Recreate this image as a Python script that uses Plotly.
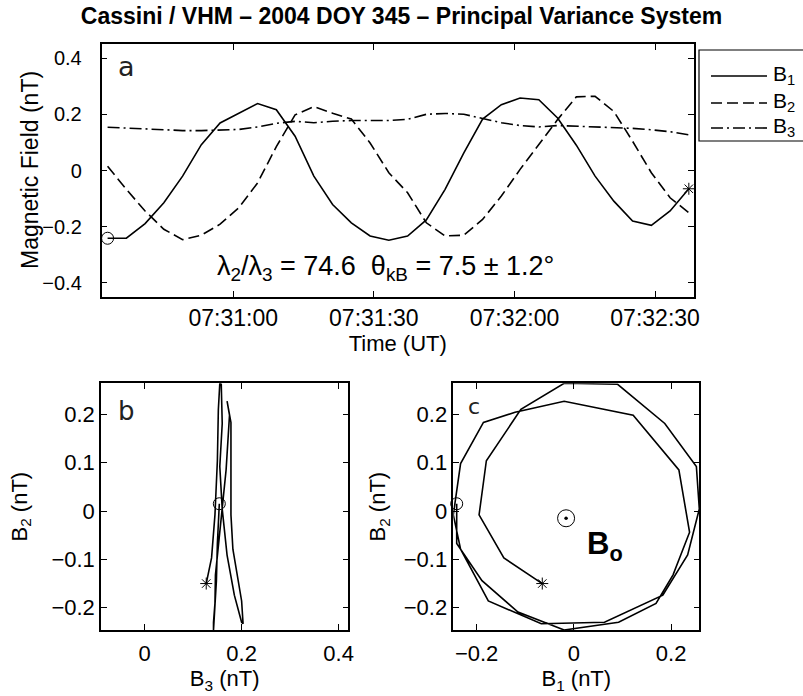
import pandas as pd
import plotly.graph_objects as go

W, H = 803, 696
OFF = 0  # body margin removed by the post script below

# ---------------- data ----------------
title_text = "Cassini / VHM – 2004 DOY 345 – Principal Variance System"
t_start = "2004-12-10 07:30:33.2"
t_step = "4s"
B1 = [-0.241, -0.241, -0.189, -0.115, -0.020, 0.092, 0.169, 0.204, 0.238, 0.216,
      0.122, -0.020, -0.121, -0.186, -0.233, -0.248, -0.233, -0.176, -0.067, 0.063,
      0.183, 0.234, 0.258, 0.252, 0.187, 0.090, -0.020, -0.109, -0.180, -0.195,
      -0.144, -0.065]
B2 = [0.015, -0.067, -0.144, -0.209, -0.246, -0.230, -0.191, -0.132, -0.044, 0.085,
      0.198, 0.227, 0.204, 0.183, 0.098, -0.008, -0.079, -0.186, -0.233, -0.230,
      -0.174, -0.091, 0.004, 0.092, 0.181, 0.262, 0.264, 0.210, 0.104, -0.008,
      -0.097, -0.150]
B3 = [0.154, 0.150, 0.148, 0.145, 0.142, 0.142, 0.145, 0.146, 0.155, 0.168,
      0.175, 0.170, 0.175, 0.178, 0.178, 0.178, 0.182, 0.200, 0.203, 0.200,
      0.185, 0.170, 0.160, 0.155, 0.160, 0.158, 0.155, 0.152, 0.150, 0.145,
      0.138, 0.127]
B0_dir = (-0.016, -0.015)
time_ticks = ["2004-12-10 07:31:00", "2004-12-10 07:31:30",
              "2004-12-10 07:32:00", "2004-12-10 07:32:30"]
time_ticktext = ["07:31:00", "07:31:30", "07:32:00", "07:32:30"]
time_range = ["2004-12-10 07:30:31.9", "2004-12-10 07:32:38.3"]
ya_ticks = [-0.4, -0.2, 0, 0.2, 0.4]
yb_ticks = [-0.2, -0.1, 0, 0.1, 0.2]
xb_ticks = [0, 0.2, 0.4]
xc_ticks = [-0.2, 0, 0.2]
annot_text = "λ<sub>2</sub>/λ<sub>3</sub> = 74.6\u00a0\u00a0θ<sub>kB</sub> = 7.5 ± 1.2°"

times = pd.date_range(t_start, periods=len(B1), freq=t_step)


def fmt(v):
    s = f"{v:g}"
    return s.replace("-", "\u2212")


def px(x):
    return (x - OFF) / W


def py(y):
    return 1 - (y - OFF) / H


FONT = "Liberation Sans, Arial, Helvetica, sans-serif"
LBL = "DejaVu Sans, Open Sans, sans-serif"
LW = 1.6
DASH = "11px,5px"
DASHDOT = "12px,4px,2px,4px"

fig = go.Figure()

# panel a
fig.add_trace(go.Scatter(x=times, y=B1, mode="lines", name="B<sub>1</sub>",
                         line=dict(color="black", width=LW), xaxis="x", yaxis="y"))
fig.add_trace(go.Scatter(x=times, y=B2, mode="lines", name="B<sub>2</sub>",
                         line=dict(color="black", width=LW, dash=DASH), xaxis="x", yaxis="y"))
fig.add_trace(go.Scatter(x=times, y=B3, mode="lines", name="B<sub>3</sub>",
                         line=dict(color="black", width=LW, dash=DASHDOT), xaxis="x", yaxis="y"))
start_mk = dict(symbol="circle-open", size=12, color="black", line=dict(width=1))
end_mk = dict(symbol="asterisk-open", size=10, color="black", line=dict(width=1))
fig.add_trace(go.Scatter(x=[times[0]], y=[B1[0]], mode="markers", marker=start_mk,
                         xaxis="x", yaxis="y", cliponaxis=False))
fig.add_trace(go.Scatter(x=[times[-1]], y=[B1[-1]], mode="markers", marker=end_mk,
                         xaxis="x", yaxis="y", cliponaxis=False))

# panel b
fig.add_trace(go.Scatter(x=B3, y=B2, mode="lines", line=dict(color="black", width=LW),
                         xaxis="x2", yaxis="y2"))
fig.add_trace(go.Scatter(x=[B3[0]], y=[B2[0]], mode="markers", marker=start_mk,
                         xaxis="x2", yaxis="y2"))
fig.add_trace(go.Scatter(x=[B3[-1]], y=[B2[-1]], mode="markers", marker=end_mk,
                         xaxis="x2", yaxis="y2"))

# panel c
fig.add_trace(go.Scatter(x=B1, y=B2, mode="lines", line=dict(color="black", width=LW),
                         xaxis="x3", yaxis="y3"))
fig.add_trace(go.Scatter(x=[B1[0]], y=[B2[0]], mode="markers", marker=start_mk,
                         xaxis="x3", yaxis="y3", cliponaxis=False))
fig.add_trace(go.Scatter(x=[B1[-1]], y=[B2[-1]], mode="markers", marker=end_mk,
                         xaxis="x3", yaxis="y3"))
fig.add_trace(go.Scatter(x=[B0_dir[0]], y=[B0_dir[1]], mode="markers",
                         marker=dict(symbol="circle-open", size=17, color="black",
                                     line=dict(width=1)),
                         xaxis="x3", yaxis="y3"))
fig.add_trace(go.Scatter(x=[B0_dir[0]], y=[B0_dir[1]], mode="markers",
                         marker=dict(symbol="circle", size=3.5, color="black"),
                         xaxis="x3", yaxis="y3"))

y_rng = [min(B2), max(B2)]
half = (y_rng[1] - y_rng[0]) / 2
b_mid = (min(B3) + max(B3)) / 2
xb_rng = [b_mid - half, b_mid + half]
xc_rng = [min(B1), max(B1)]

common = dict(showline=True, linecolor="black", linewidth=1.5, mirror="ticks",
              ticks="inside", ticklen=6, tickwidth=1, tickcolor="black",
              showgrid=False, zeroline=False, tickfont=dict(family=FONT, size=22, color="black"))

fig.update_layout(
    width=W, height=H, showlegend=False,
    paper_bgcolor="white", plot_bgcolor="white",
    margin=dict(l=0, r=0, t=0, b=0, autoexpand=False),
    font=dict(family=FONT, color="black"),
    title=dict(text=f"<b>{title_text}</b>", x=px(401.5), xanchor="center", y=py(16), yanchor="middle",
               font=dict(family=FONT, size=23, color="black")),
    xaxis=dict(common, domain=[px(101.5), px(694)], anchor="y", type="date",
               range=time_range, tickvals=time_ticks, ticktext=time_ticktext,
               tickfont=dict(family=FONT, size=23, color="black"),
               title=dict(text="Time (UT)", font=dict(family=FONT, size=22), standoff=3)),
    yaxis=dict(common, domain=[py(297), py(44)], anchor="x", range=[-0.45, 0.45],
               tickvals=ya_ticks, ticktext=[fmt(v) for v in ya_ticks], ticklabelstandoff=14,
               tickfont=dict(family=FONT, size=20, color="black")),
    xaxis2=dict(common, domain=[px(101), px(348.3)], anchor="y2", range=xb_rng,
                tickvals=xb_ticks, ticktext=[fmt(v) for v in xb_ticks], ticklabelstandoff=3,
                title=dict(text="B<sub>3</sub> (nT)", font=dict(family=FONT, size=22), standoff=4)),
    yaxis2=dict(common, domain=[py(630), py(383.3)], anchor="x2", range=y_rng,
                tickvals=yb_ticks, ticktext=[fmt(v) for v in yb_ticks],
                title=dict(text="B<sub>2</sub> (nT)", font=dict(family=FONT, size=22), standoff=18)),
    xaxis3=dict(common, domain=[px(453.3), px(699.3)], anchor="y3", range=xc_rng,
                tickvals=xc_ticks, ticktext=[fmt(v) for v in xc_ticks], ticklabelstandoff=3,
                title=dict(text="B<sub>1</sub> (nT)", font=dict(family=FONT, size=22), standoff=4)),
    yaxis3=dict(common, domain=[py(630), py(383.3)], anchor="x3", range=y_rng,
                tickvals=yb_ticks, ticktext=[fmt(v) for v in yb_ticks],
                title=dict(text="B<sub>2</sub> (nT)", font=dict(family=FONT, size=22), standoff=12)),
)

ann = []
ann.append(dict(text="Magnetic Field (nT)", x=px(30), y=py(170), xref="paper", yref="paper",
                xanchor="center", yanchor="middle", textangle=-90, showarrow=False,
                font=dict(family=FONT, size=23, color="black")))
# panel letters
ann.append(dict(text="a", x=px(116), y=py(66), xref="paper", yref="paper", xanchor="left",
                yanchor="middle", showarrow=False, font=dict(family=LBL, size=27, color="#222")))
ann.append(dict(text="b", x=px(116), y=py(411), xref="paper", yref="paper", xanchor="left",
                yanchor="middle", showarrow=False, font=dict(family=LBL, size=26, color="#222")))
ann.append(dict(text="c", x=px(466), y=py(406), xref="paper", yref="paper", xanchor="left",
                yanchor="middle", showarrow=False, font=dict(family=LBL, size=22, color="#222")))
ann.append(dict(text=annot_text, x=px(215), y=py(268), xref="paper", yref="paper", xanchor="left",
                yanchor="middle", showarrow=False, font=dict(family=FONT, size=27, color="black")))
ann.append(dict(text="<b>B<sub>o</sub></b>", x=px(585), y=py(546), xref="paper", yref="paper",
                xanchor="left", yanchor="middle", showarrow=False,
                font=dict(family=FONT, size=31, color="black")))

# legend (drawn box, partly off the right edge as in the original)
shapes = [dict(type="rect", xref="paper", yref="paper", x0=px(699), x1=px(840),
               y0=py(141), y1=py(50), line=dict(color="black", width=1.2), fillcolor="white")]
rows = [(76, None, "B<sub>1</sub>"), (103, DASH, "B<sub>2</sub>"), (128, DASHDOT, "B<sub>3</sub>")]
for yy, dash, lab in rows:
    ln = dict(color="black", width=LW)
    if dash:
        ln["dash"] = dash
    shapes.append(dict(type="line", xref="paper", yref="paper", x0=px(711), x1=px(767),
                       y0=py(yy), y1=py(yy), line=ln))
    ann.append(dict(text=lab, x=px(771), y=py(yy - 1), xref="paper", yref="paper",
                    xanchor="left", yanchor="middle", showarrow=False,
                    font=dict(family=FONT, size=21, color="black")))

fig.update_layout(annotations=ann, shapes=shapes)
fig.write_html("out.html", config={"displayModeBar": False},
               post_script="document.body.style.margin='0';document.body.style.padding='0';")
